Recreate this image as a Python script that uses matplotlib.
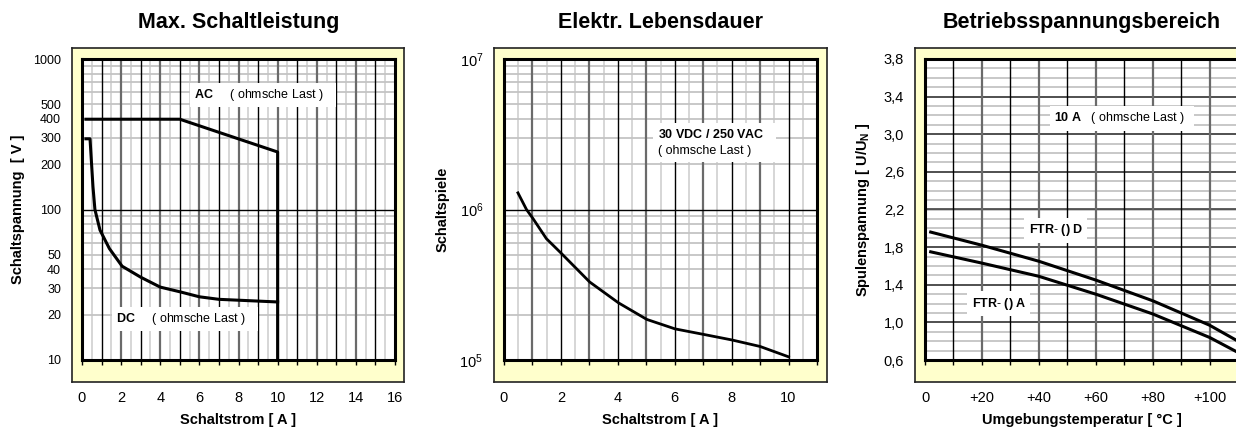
import numpy as np
import matplotlib
matplotlib.use('Agg')
import matplotlib.pyplot as plt

plt.rcParams['font.family'] = ['Liberation Sans', 'DejaVu Sans']
plt.rcParams['mathtext.fontset'] = 'custom'
plt.rcParams['mathtext.rm'] = 'Liberation Sans'
plt.rcParams['mathtext.it'] = 'Liberation Sans:italic'
plt.rcParams['mathtext.bf'] = 'Liberation Sans:bold'

# --- Daten ---
# Max. Schaltleistung
ac_strom = [0.2, 5.0, 10.0, 10.0]
ac_spannung = [398, 398, 241, 10]
dc_strom = [0.2, 0.41, 0.49, 0.56, 0.66, 0.92, 1.4, 2.05, 3.0, 4.0, 5.0, 6.0, 7.0, 10.0]
dc_spannung = [295, 295, 200, 142, 100, 73, 55, 42, 35.5, 30.5, 28.4, 26.3, 25.3, 24.3]
s1_yticks = [10, 20, 30, 40, 50, 100, 200, 300, 400, 500, 1000]

# Elektr. Lebensdauer
leb_strom = [0.49, 0.79, 1.02, 1.49, 2.02, 3.01, 4.02, 5.02, 6.01, 7.01, 8.0, 9.0, 10.0]
leb_spiele = [1.29e6, 1.0e6, 8.7e5, 6.4e5, 5.1e5, 3.3e5, 2.4e5, 1.86e5, 1.61e5, 1.48e5, 1.36e5, 1.23e5, 1.05e5]

# Betriebsspannungsbereich
temp = [2, 20, 40, 60, 80, 100, 110]
ftr_d = [1.96, 1.82, 1.65, 1.45, 1.23, 0.97, 0.80]
ftr_a = [1.75, 1.63, 1.49, 1.30, 1.09, 0.84, 0.68]
s3_xticks = [0, 20, 40, 60, 80, 100]
s3_xlabels = ['0', '+20', '+40', '+60', '+80', '+100']
s3_yticks = [0.6, 1.0, 1.4, 1.8, 2.2, 2.6, 3.0, 3.4, 3.8]

W, H = 1236, 428
YELLOW = '#FFFFCC'


def box(l, t, r, b):
    return [l / W, 1 - b / H, (r - l) / W, (b - t) / H]


fig = plt.figure(figsize=(W / 100, H / 100), dpi=100)


def panel(frame, inner, title, xlabel, ylabel):
    fr = fig.add_axes(box(*frame))
    fr.set_facecolor(YELLOW)
    fr.set_xticks([])
    fr.set_yticks([])
    for s in fr.spines.values():
        s.set_color('#222222')
        s.set_linewidth(1.2)
    ax = fig.add_axes(box(*inner))
    ax.set_facecolor('white')
    for s in ax.spines.values():
        s.set_linewidth(2.2)
        s.set_color('black')
        s.set_zorder(5)
    ax.tick_params(axis='y', which='both', length=0, pad=15, labelsize=9)
    ax.tick_params(axis='x', which='both', direction='out', length=3.5, width=1,
                   pad=19, labelsize=10.5)
    ax.set_title(title, fontsize=15.5, fontweight='bold', y=1.12, va='center', pad=0)
    ax.set_xlabel(xlabel, fontsize=10.5, fontweight='bold', va='center')
    ax.xaxis.set_label_coords(0.5, -0.2)
    ax.set_ylabel(ylabel, fontsize=10.5, fontweight='bold', va='center')
    return ax


lbl_box = dict(boxstyle='square,pad=0.35', fc='white', ec='none')

# ---------- 1: Max. Schaltleistung ----------
ax1 = panel((72, 48, 404, 382), (82, 59, 395, 360), 'Max. Schaltleistung',
            'Schaltstrom [ A ]', 'Schaltspannung  [ V ]')
ax1.yaxis.set_label_coords(-0.204, 0.5)
ax1.set_yscale('log')
ax1.set_xlim(0, 16)
ax1.set_ylim(10, 1000)
for x in np.arange(0.5, 16, 1):
    ax1.axvline(x, color='#d0d0d0', lw=1.2, zorder=1)
for x in range(1, 16):
    ax1.axvline(x, color='black' if x % 2 else '#6a6a6a', lw=1.0 if x % 2 else 1.6, zorder=1.5)
for d in (10, 100):
    for m in range(2, 10):
        ax1.axhline(d * m, color='#c4c4c4', lw=1.3, zorder=1)
ax1.axhline(100, color='black', lw=1.0, zorder=1.5)
ax1.set_xticks(range(0, 17, 2))
ax1.set_xticks(range(1, 16, 2), minor=True)
ax1.set_yticks(s1_yticks, [str(v) for v in s1_yticks])
ax1.set_yticks([], minor=True)
ax1.plot(ac_strom, ac_spannung, color='black', lw=2.2, zorder=4)
ax1.plot(dc_strom, dc_spannung, color='black', lw=2.2, zorder=4)
ax1.text(5.75, 576, r'$\mathbf{AC}$     ( ohmsche Last )   ', fontsize=9, ha='left',
         va='center', bbox=lbl_box, zorder=3)
ax1.text(1.75, 18.7, r'$\mathbf{DC}$     ( ohmsche Last )   ', fontsize=9, ha='left',
         va='center', bbox=lbl_box, zorder=3)

# ---------- 2: Elektr. Lebensdauer ----------
ax2 = panel((494, 48, 827, 382), (504, 59, 817, 360), 'Elektr. Lebensdauer',
            'Schaltstrom [ A ]', 'Schaltspiele')
ax2.yaxis.set_label_coords(-0.195, 0.5)
ax2.set_yscale('log')
ax2.set_xlim(0, 11)
ax2.set_ylim(1e5, 1e7)
for x in np.arange(0.5, 11, 1):
    ax2.axvline(x, color='#d0d0d0', lw=1.2, zorder=1)
for x in range(1, 11):
    ax2.axvline(x, color='#6a6a6a' if x % 2 else 'black', lw=1.6 if x % 2 else 1.0, zorder=1.5)
for d in (1e5, 1e6):
    for m in range(2, 10):
        ax2.axhline(d * m, color='#c4c4c4', lw=1.3, zorder=1)
ax2.axhline(1e6, color='black', lw=1.0, zorder=1.5)
ax2.set_xticks(range(0, 11, 2))
ax2.set_xticks(range(1, 12, 2), minor=True)
ax2.set_yticks([1e5, 1e6, 1e7])
ax2.set_yticks([], minor=True)
ax2.tick_params(axis='y', labelsize=10.5)
ax2.plot(leb_strom, leb_spiele, color='black', lw=2.0, zorder=4)
ax2.text(5.4, 2.79e6, r'$\mathbf{30\ VDC\ /\ 250\ VAC}$' + '   \n( ohmsche Last )', fontsize=9,
         ha='left', va='center', linespacing=1.5, bbox=lbl_box, zorder=3)

# ---------- 3: Betriebsspannungsbereich ----------
ax3 = panel((915, 48, 1247, 382), (925, 59, 1238, 360), 'Betriebsspannungsbereich',
            'Umgebungstemperatur [ °C ]', r'Spulenspannung [ U/U$_\mathbf{N}$ ]')
ax3.yaxis.set_label_coords(-0.198, 0.5)
ax3.set_xlim(0, 110)
ax3.set_ylim(0.6, 3.8)
for v in np.arange(0.7, 3.8, 0.1):
    ax3.axhline(v, color='#c4c4c4', lw=1.3, zorder=1)
for v in s3_yticks[1:-1]:
    ax3.axhline(v, color='#303030', lw=1.1, zorder=1.5)
for x in range(10, 110, 10):
    ax3.axvline(x, color='black' if (x // 10) % 2 else '#6a6a6a', lw=1.0 if (x // 10) % 2 else 1.6,
                zorder=1.5)
ax3.set_xticks(s3_xticks, s3_xlabels)
ax3.set_xticks(range(10, 111, 20), minor=True)
ax3.set_yticks(s3_yticks, [f'{v:.1f}'.replace('.', ',') for v in s3_yticks])
ax3.tick_params(axis='y', labelsize=10.5)
ax3.plot(temp, ftr_d, color='black', lw=2.2, zorder=4)
ax3.plot(temp, ftr_a, color='black', lw=2.2, zorder=4)
ax3.text(45.5, 3.17, r'$\mathbf{10\ A}$   ( ohmsche Last )  ', fontsize=9, ha='left',
         va='center', bbox=lbl_box, zorder=3)
ax3.text(36.4, 1.98, r'$\mathbf{FTR\text{-}\ ()\ D}$', fontsize=9, ha='left', va='center',
         bbox=lbl_box, zorder=3)
ax3.text(16.4, 1.20, r'$\mathbf{FTR\text{-}\ ()\ A}$', fontsize=9, ha='left', va='center',
         bbox=lbl_box, zorder=3)

fig.savefig('out.png', dpi=100)
